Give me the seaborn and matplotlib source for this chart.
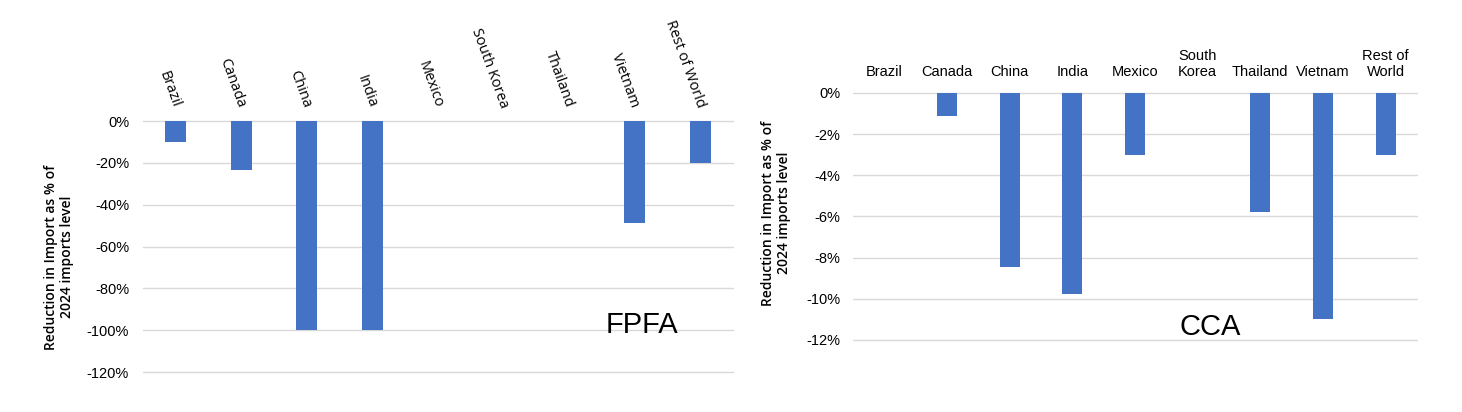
import numpy as np
import pandas as pd
import matplotlib
matplotlib.use("Agg")
import matplotlib.pyplot as plt
import seaborn as sns

sns.set_style("white")
plt.rcParams['font.family'] = ['Liberation Sans Narrow', 'Liberation Sans', 'DejaVu Sans']
plt.rcParams['text.color'] = 'black'
plt.rcParams['xtick.color'] = 'black'
plt.rcParams['ytick.color'] = 'black'
plt.rcParams['axes.labelcolor'] = 'black'

countries = ["Brazil", "Canada", "China", "India", "Mexico", "South Korea",
             "Thailand", "Vietnam", "Rest of World"]
cca_labels = ["Brazil", "Canada", "China", "India", "Mexico", "South\nKorea",
              "Thailand", "Vietnam", "Rest of\nWorld"]
fpfa_vals = [-10, -23.5, -100, -100, 0, 0, 0, -48.5, -20]
cca_vals = [0, -1.1, -8.45, -9.75, -3.0, 0, -5.8, -11.0, -3.0]
fpfa_ticks = [0, -20, -40, -60, -80, -100, -120]
cca_ticks = [0, -2, -4, -6, -8, -10, -12]

bar_color = "#4472C4"
grid_color = "#d9d9d9"
ylab = "Reduction in Import as % of\n2024 imports level"

fig = plt.figure(figsize=(14.62, 4.12), dpi=100)
ax1 = fig.add_axes([0.0978, 0.097, 0.4036, 0.609])
ax2 = fig.add_axes([0.5834, 0.175, 0.3858, 0.5995])

df1 = pd.DataFrame({"country": countries, "value": fpfa_vals})
df2 = pd.DataFrame({"country": cca_labels, "value": cca_vals})

sns.barplot(data=df1, x="country", y="value", color=bar_color, width=0.32,
            saturation=1, linewidth=0, ax=ax1)
sns.barplot(data=df2, x="country", y="value", color=bar_color, width=0.32,
            saturation=1, linewidth=0, ax=ax2)

for ax, ticks, lim in [(ax1, fpfa_ticks, -120), (ax2, cca_ticks, -12)]:
    ax.set_ylim(lim, 0)
    ax.set_xlim(-0.5, len(countries) - 0.5)
    ax.set_yticks(ticks)
    ax.set_yticklabels([f"{t}%" for t in ticks], fontsize=10.5)
    ax.yaxis.grid(True, color=grid_color, linewidth=1)
    for gl in ax.get_ygridlines():
        gl.set_clip_on(False)
    ax.set_axisbelow(True)
    for s in ax.spines.values():
        s.set_visible(False)
    ax.xaxis.tick_top()
    ax.tick_params(axis='both', length=0)
    ax.set_xlabel("")
    ax.set_ylabel(ylab, family=['Open Sans', 'DejaVu Sans'], fontsize=10,
                  fontweight='semibold')

# left chart: rotated country names
ax1.tick_params(axis='x', pad=10)
for lbl in ax1.get_xticklabels():
    lbl.set_rotation(-70)
    lbl.set_rotation_mode('anchor')
    lbl.set_ha('right')
    lbl.set_va('center')
    lbl.set_family(['Open Sans', 'DejaVu Sans'])
    lbl.set_fontsize(10.5)
ax1.tick_params(axis='y', pad=10)
ax1.yaxis.set_label_coords(-0.117, 0.458)

# right chart: horizontal wrapped names
ax2.tick_params(axis='x', pad=10)
for lbl in ax2.get_xticklabels():
    lbl.set_fontsize(10.5)
    lbl.set_va('bottom')
ax2.tick_params(axis='y', pad=9)
ax2.yaxis.set_label_coords(-0.11, 0.514)

ax1.text(0.846, 0.13, "FPFA", transform=ax1.transAxes, fontsize=21,
         ha='center', va='bottom')
ax2.text(0.633, -0.005, "CCA", transform=ax2.transAxes, fontsize=21,
         ha='center', va='bottom')

fig.savefig("out.png", dpi=100)
